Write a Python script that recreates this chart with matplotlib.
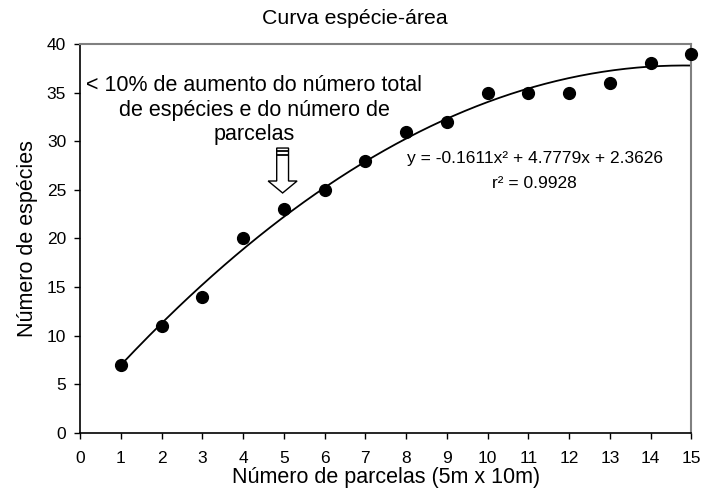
import numpy as np
import matplotlib
matplotlib.use("Agg")
import matplotlib.pyplot as plt
from matplotlib.patches import FancyArrow

plt.rcParams['font.family'] = ['Liberation Sans', 'DejaVu Sans']

parcelas = [1, 2, 3, 4, 5, 6, 7, 8, 9, 10, 11, 12, 13, 14, 15]
especies = [7, 11, 14, 20, 23, 25, 28, 31, 32, 35, 35, 35, 36, 38, 39]
coef = [-0.1611, 4.7779, 2.3626]
x_ticks = list(range(0, 16))
y_ticks = [0, 5, 10, 15, 20, 25, 30, 35, 40]

fig = plt.figure(figsize=(7.02, 4.93), dpi=100)
ax = fig.add_axes([0.114, 0.1217, 0.871, 0.7891])

xx = np.linspace(parcelas[0], parcelas[-1], 200)
ax.plot(xx, np.polyval(coef, xx), color='black', lw=1.3, zorder=2)
ax.plot(parcelas, especies, 'o', color='black', ms=8.5, zorder=3, clip_on=False)

ax.set_xlim(0, 15)
ax.set_ylim(0, 40)
ax.set_xticks(x_ticks)
ax.set_yticks(y_ticks)
ax.tick_params(axis='both', direction='out', length=4, width=1, labelsize=12.5, color='black')
ax.tick_params(axis='x', pad=9)
ax.tick_params(axis='y', pad=6)
for s in ['left', 'bottom']:
    ax.spines[s].set_color('black')
    ax.spines[s].set_linewidth(1.2)
for s in ['top', 'right']:
    ax.spines[s].set_color('#808080')
    ax.spines[s].set_linewidth(1.5)

ax.set_xlabel('Número de parcelas (5m x 10m)', fontsize=15.5, labelpad=1)
ax.set_ylabel('Número de espécies', fontsize=15.5, labelpad=6)
fig.text(0.506, 0.962, 'Curva espécie-área', ha='center', va='center', fontsize=15.3)

ax.text(4.28, 33.2, '< 10% de aumento do número total\nde espécies e do número de\nparcelas',
        ha='center', va='center', fontsize=15.5, linespacing=1.2)

arrow = FancyArrow(4.97, 29.3, 0, -4.62, width=0.29, head_width=0.71, head_length=1.23,
                   length_includes_head=True, facecolor='white', edgecolor='black', lw=1.0, zorder=4)
ax.add_patch(arrow)
ax.plot([4.83, 5.11], [28.95, 28.95], color='black', lw=1.3, zorder=5)
ax.plot([4.83, 5.11], [28.62, 28.62], color='black', lw=1.3, zorder=5)

ax.text(11.15, 28.2, 'y = -0.1611x² + 4.7779x + 2.3626', ha='center', va='center', fontsize=12.5)
ax.text(11.15, 25.7, 'r² = 0.9928', ha='center', va='center', fontsize=12.5)

fig.savefig('out.png', dpi=100)
